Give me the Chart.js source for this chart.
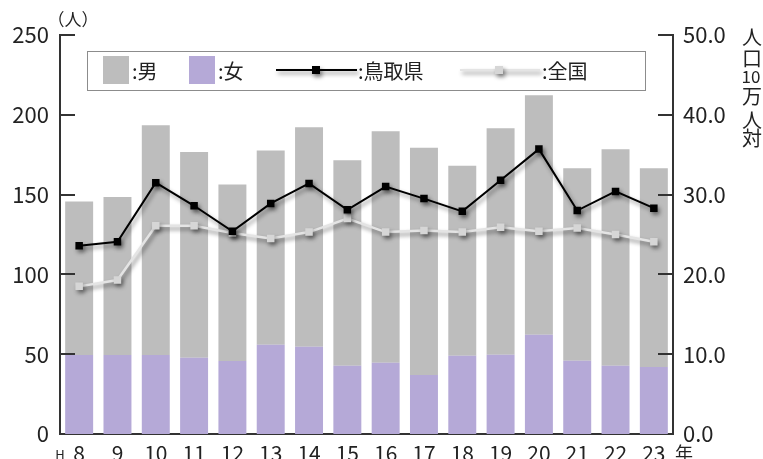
<!DOCTYPE html>
<html>
<head>
<meta charset="utf-8">
<script src="https://cdn.jsdelivr.net/npm/chart.js@4.4.1/dist/chart.umd.min.js"></script>
<style>
  html, body { margin: 0; padding: 0; background: #fff; }
  #wrap { width: 763px; height: 459px; position: relative; }
</style>
</head>
<body>
<div id="wrap"><canvas id="c" width="763" height="459"></canvas></div>
<script>
const years = ['8','9','10','11','12','13','14','15','16','17','18','19','20','21','22','23'];
const women = [49.5,49.5,49.5,47.7,45.8,55.9,54.6,42.7,44.7,37.0,49.0,49.6,62.2,45.9,42.7,42.0];
const men   = [96.2,99.0,144.0,129.0,110.6,121.8,137.6,128.8,145.0,142.3,119.0,142.0,150.1,120.6,135.7,124.5];
const tottori  = [23.6,24.1,31.5,28.6,25.4,28.9,31.4,28.1,31.0,29.5,27.9,31.8,35.7,28.0,30.4,28.3];
const national = [18.5,19.3,26.1,26.1,25.2,24.5,25.3,27.0,25.3,25.5,25.3,25.9,25.4,25.8,25.0,24.1];
const leftTicks = [0,50,100,150,200,250];
const rightTicks = [0,10,20,30,40,50];

const FONT = '"Noto Sans CJK JP", "Noto Sans", sans-serif';
const GREY = '#bdbdbd';
const PURPLE = '#b5a9d7';
const AXIS = '#333333';
const TEXT = '#222222';

const bgPlugin = {
  id: 'bg',
  beforeDraw(chart) {
    const ctx = chart.ctx;
    ctx.save(); ctx.fillStyle = '#fff'; ctx.fillRect(0, 0, chart.width, chart.height); ctx.restore();
  }
};

const shadowPlugin = {
  id: 'lineShadow',
  beforeDatasetDraw(chart, args) {
    const ds = chart.data.datasets[args.index];
    if (ds.type === 'line') {
      const ctx = chart.ctx;
      ctx.save();
      ctx.shadowColor = 'rgba(0,0,0,0.45)';
      ctx.shadowOffsetX = 2;
      ctx.shadowOffsetY = 3;
      ctx.shadowBlur = 4;
    }
  },
  afterDatasetDraw(chart, args) {
    const ds = chart.data.datasets[args.index];
    if (ds.type === 'line') chart.ctx.restore();
  }
};

const decoPlugin = {
  id: 'deco',
  afterDatasetsDraw(chart) {
    const ctx = chart.ctx;
    const a = chart.chartArea;
    const y = chart.scales.y, y1 = chart.scales.y1;
    ctx.save();
    ctx.strokeStyle = AXIS;
    ctx.lineWidth = 2;
    leftTicks.forEach(v => {
      const p = Math.round(y.getPixelForValue(v));
      if (v === 0) return;
      ctx.beginPath(); ctx.moveTo(a.left, p); ctx.lineTo(a.left + 15, p); ctx.stroke();
    });
    rightTicks.forEach(v => {
      const p = Math.round(y1.getPixelForValue(v));
      if (v === 0) return;
      ctx.beginPath(); ctx.moveTo(a.right, p); ctx.lineTo(a.right - 15, p); ctx.stroke();
    });
    ctx.restore();
  },
  afterDraw(chart) {
    const ctx = chart.ctx;
    ctx.save();
    // legend box
    ctx.fillStyle = '#fff';
    ctx.fillRect(87.5, 51.5, 558, 39);
    ctx.strokeStyle = '#8c8c8c';
    ctx.lineWidth = 1;
    ctx.strokeRect(87.5, 51.5, 558, 39);
    ctx.fillStyle = GREY; ctx.fillRect(103, 56, 26, 28);
    ctx.fillStyle = PURPLE; ctx.fillRect(189, 56, 26, 28);
    ctx.font = '20px ' + FONT;
    ctx.fillStyle = TEXT;
    ctx.textBaseline = 'middle';
    ctx.textAlign = 'left';
    ctx.fillText(':男', 132, 71);
    ctx.fillText(':女', 218, 71);
    ctx.fillText(':鳥取県', 358, 71);
    ctx.fillText(':全国', 542, 71);
    // legend line samples with shadow
    function sample(x0, x1, xm, color, mcolor) {
      ctx.save();
      ctx.shadowColor = 'rgba(0,0,0,0.45)';
      ctx.shadowOffsetX = 2; ctx.shadowOffsetY = 3; ctx.shadowBlur = 4;
      ctx.strokeStyle = color; ctx.lineWidth = 2;
      ctx.beginPath(); ctx.moveTo(x0, 70); ctx.lineTo(x1, 70); ctx.stroke();
      ctx.fillStyle = mcolor;
      ctx.fillRect(xm - 4, 66, 8, 8);
      ctx.restore();
    }
    sample(276, 357, 316, '#000', '#000');
    sample(460, 540, 499, '#e4e4e4', '#d6d6d6');
    // axis annotations
    ctx.fillStyle = TEXT;
    ctx.textAlign = 'center';
    ctx.font = '17px ' + FONT;
    ctx.fillText('（人）', 73, 20);
    ctx.font = '13px ' + FONT;
    ctx.fillText('H', 60, 455);
    ctx.font = '18px ' + FONT;
    ctx.fillText('年', 684, 453);
    // right axis title (vertical)
    ctx.font = '20px ' + FONT;
    ctx.fillText('人', 752, 37);
    ctx.fillText('口', 752, 58);
    ctx.font = '17px ' + FONT;
    ctx.fillText('10', 751, 77);
    ctx.font = '20px ' + FONT;
    ctx.fillText('万', 752, 96);
    ctx.fillText('人', 752, 120);
    ctx.fillText('対', 752, 138);
    ctx.restore();
  }
};

new Chart(document.getElementById('c'), {
  data: {
    labels: years,
    datasets: [
      { type: 'line', label: '鳥取県', data: tottori, yAxisID: 'y1', order: 0,
        borderColor: '#000', borderWidth: 2, pointStyle: 'rect', pointRadius: 5.3,
        pointBackgroundColor: '#000', pointBorderColor: '#000', pointBorderWidth: 0, tension: 0 },
      { type: 'line', label: '全国', data: national, yAxisID: 'y1', order: 1,
        borderColor: '#e4e4e4', borderWidth: 2.5, pointStyle: 'rect', pointRadius: 5.3,
        pointBackgroundColor: '#d6d6d6', pointBorderColor: '#d6d6d6', pointBorderWidth: 0, tension: 0 },
      { type: 'bar', label: '女', data: women, yAxisID: 'y', order: 2, stack: 's',
        backgroundColor: PURPLE, borderWidth: 0, barPercentage: 0.73, categoryPercentage: 1 },
      { type: 'bar', label: '男', data: men, yAxisID: 'y', order: 2, stack: 's',
        backgroundColor: GREY, borderWidth: 0, barPercentage: 0.73, categoryPercentage: 1 }
    ]
  },
  options: {
    responsive: false,
    animation: false,
    layout: { padding: { top: 35, left: 0, right: 0, bottom: 0 } },
    plugins: { legend: { display: false }, tooltip: { enabled: false } },
    scales: {
      x: {
        stacked: true,
        grid: { display: false, drawTicks: false },
        border: { display: true, color: AXIS, width: 2 },
        ticks: { color: TEXT, font: { family: FONT, size: 21 }, padding: 6, maxRotation: 0, autoSkip: false },
        afterFit(s) { s.height = 25; }
      },
      y: {
        position: 'left', stacked: true, min: 0, max: 250,
        grid: { display: false, drawTicks: false },
        border: { display: true, color: AXIS, width: 2 },
        ticks: { stepSize: 50, color: TEXT, font: { family: FONT, size: 22 }, padding: 11 },
        afterFit(s) { s.width = 60; }
      },
      y1: {
        position: 'right', min: 0, max: 50,
        grid: { display: false, drawTicks: false },
        border: { display: true, color: AXIS, width: 2 },
        ticks: { stepSize: 10, color: TEXT, font: { family: FONT, size: 22 }, padding: 10,
                 callback: v => Number(v).toFixed(1) },
        afterFit(s) { s.width = 90; }
      }
    }
  },
  plugins: [bgPlugin, shadowPlugin, decoPlugin]
});
</script>
</body>
</html>
